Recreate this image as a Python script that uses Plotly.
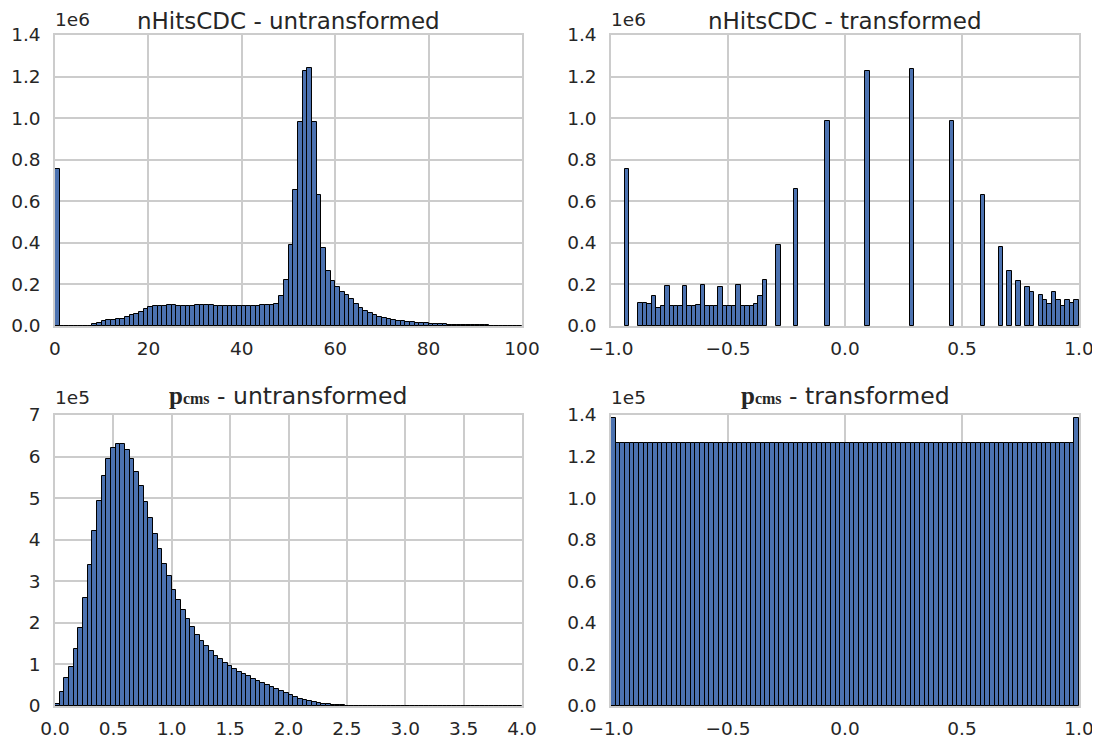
import numpy as np
import plotly.graph_objects as go

# ---------------- data ----------------
# Panel 1: nHitsCDC untransformed, 100 bins over [0, 100], counts in units of 1e6
hits_raw_edges = np.linspace(0, 100, 101)
hits_raw_counts = [
    0.753, 0, 0, 0, 0, 0, 0, 0.002, 0.008, 0.016,
    0.022, 0.028, 0.030, 0.033, 0.035, 0.042, 0.052, 0.060, 0.069, 0.080,
    0.090, 0.094, 0.095, 0.098, 0.099, 0.099, 0.097, 0.095, 0.095, 0.098,
    0.100, 0.101, 0.100, 0.099, 0.098, 0.097, 0.096, 0.095, 0.095, 0.094,
    0.094, 0.095, 0.097, 0.098, 0.099, 0.099, 0.100, 0.108, 0.143, 0.222,
    0.388, 0.656, 0.983, 1.229, 1.239, 0.983, 0.631, 0.377, 0.264, 0.215,
    0.186, 0.166, 0.147, 0.128, 0.107, 0.089, 0.073, 0.061, 0.052, 0.044,
    0.039, 0.034, 0.030, 0.026, 0.023, 0.020, 0.018, 0.016, 0.015, 0.013,
    0.011, 0.0098, 0.0085, 0.0075, 0.0066, 0.0058, 0.005, 0.0045, 0.004, 0.0035,
    0.003, 0.0028, 0.0025, 0.0022, 0.002, 0.0018, 0.0016, 0.0015, 0.0013, 0.0012,
]

# Panel 2: nHitsCDC transformed, 102 bins over [-0.94, 0.998]; only non-empty bins listed
hits_t_edges = np.linspace(-0.94, 0.998, 103)
hits_t_bins = [0, 3, 4, 5, 6, 7, 8, 9, 10, 11, 12, 13, 14, 15, 16, 17, 18, 19, 20,
               21, 22, 23, 24, 25, 26, 27, 28, 29, 30, 31, 34, 38, 45, 54, 64, 73, 80,
               84, 86, 88, 90, 91, 93, 94, 95, 96, 97, 98, 99, 100, 101]
hits_t_counts = [0.756, 0.111, 0.111, 0.106, 0.145, 0.089, 0.094, 0.194, 0.098, 0.098,
                 0.094, 0.192, 0.097, 0.098, 0.100, 0.198, 0.098, 0.095, 0.095, 0.190,
                 0.094, 0.094, 0.097, 0.198, 0.098, 0.097, 0.098, 0.108, 0.142, 0.223,
                 0.389, 0.660, 0.984, 1.229, 1.238, 0.984, 0.632,
                 0.379, 0.265, 0.215, 0.187, 0.166, 0.147, 0.127, 0.108, 0.166, 0.123,
                 0.094, 0.127, 0.111, 0.127]

# Panel 3: p_cms untransformed, 100 bins over [0, 4], counts in units of 1e5
p_raw_edges = np.linspace(0, 4, 101)
p_raw_counts = [
    0.056, 0.34, 0.67, 0.95, 1.37, 1.88, 2.59, 3.38, 4.20, 4.93,
    5.53, 5.95, 6.20, 6.31, 6.30, 6.15, 5.94, 5.64, 5.29, 4.90,
    4.53, 4.14, 3.77, 3.42, 3.12, 2.80, 2.55, 2.30, 2.09, 1.90,
    1.72, 1.57, 1.45, 1.33, 1.21, 1.12, 1.04, 0.97, 0.90, 0.83,
    0.77, 0.71, 0.66, 0.60, 0.56, 0.51, 0.46, 0.40, 0.35, 0.31,
    0.26, 0.21, 0.18, 0.145, 0.12, 0.097, 0.073, 0.056, 0.040, 0.032,
    0.024, 0.016, 0.010, 0.006, 0.003, 0.002, 0.001, 0, 0, 0,
] + [0] * 30

# Panel 4: p_cms transformed, 100 bins over [-1, 1], counts in units of 1e5
p_t_edges = np.linspace(-1, 1, 101)
p_t_counts = [1.385] + [1.265] * 98 + [1.385]

# ---------------- figure ----------------
BAR_COLOR = "#4C72B0"
GRID = "#cccccc"
TXT = "#262626"
FONT = "DejaVu Sans"
TICK = 18.5

# the page body adds an 8px margin, so the figure is drawn 8px in from the corner
OFF = 8
W, H = 1100 - OFF, 744 - OFF
ML, MT = 55 - OFF, 35 - OFF
MR = W - (1079 - OFF)
MB = H - (706 - OFF)
PW, PH = W - ML - MR, H - MT - MB


def px_x(px):  # reference screen pixel -> paper fraction
    return (px - OFF - ML) / PW


def px_y(py):
    return (H - MB - (py - OFF)) / PH


def bars(edges, counts, ax, bins=None):
    edges = np.asarray(edges)
    if bins is None:
        bins = list(range(len(counts)))
    left = edges[bins]
    right = edges[np.asarray(bins) + 1]
    return go.Bar(
        x=(left + right) / 2, y=counts, width=(right - left),
        marker=dict(color=BAR_COLOR, line=dict(color="black", width=1)),
        xaxis="x" + ax, yaxis="y" + ax, showlegend=False, hoverinfo="x+y",
    )


fig = go.Figure()
fig.add_trace(bars(hits_raw_edges, hits_raw_counts, ""))
fig.add_trace(bars(hits_t_edges, hits_t_counts, "2", hits_t_bins))
fig.add_trace(bars(p_raw_edges, p_raw_counts, "3"))
fig.add_trace(bars(p_t_edges, p_t_counts, "4"))

xd_left = [px_x(55), px_x(522)]
xd_right = [px_x(611), px_x(1079)]
yd_top = [px_y(326), px_y(35)]
yd_bot = [px_y(706), px_y(415)]


def axis(domain, rng, vals, text, anchor, tl):
    return dict(domain=domain, range=rng, tickvals=vals, ticktext=text, anchor=anchor,
                showgrid=True, gridcolor=GRID, gridwidth=1.5, zeroline=False,
                showline=True, linecolor=GRID, linewidth=1.5, mirror=True,
                ticks="outside", ticklen=tl, tickcolor="rgba(0,0,0,0)", automargin=False,
                tickfont=dict(family=FONT, size=TICK, color=TXT))


y14 = [0, 0.2, 0.4, 0.6, 0.8, 1.0, 1.2, 1.4]
y14t = ["0.0", "0.2", "0.4", "0.6", "0.8", "1.0", "1.2", "1.4"]
xm1 = [-1, -0.5, 0, 0.5, 1]
xm1t = ["\u22121.0", "\u22120.5", "0.0", "0.5", "1.0"]

fig.update_layout(
    width=W, height=H, margin=dict(l=ML, r=MR, t=MT, b=MB),
    paper_bgcolor="white", plot_bgcolor="white", bargap=0,
    xaxis=axis(xd_left, [0, 100], [0, 20, 40, 60, 80, 100], ["0", "20", "40", "60", "80", "100"], "y", 5),
    yaxis=axis(yd_top, [0, 1.4], y14, y14t, "x", 9),
    xaxis2=axis(xd_right, [-1, 1], xm1, xm1t, "y2", 5),
    yaxis2=axis(yd_top, [0, 1.4], y14, y14t, "x2", 9),
    xaxis3=axis(xd_left, [0, 4], [0, 0.5, 1, 1.5, 2, 2.5, 3, 3.5, 4],
                ["0.0", "0.5", "1.0", "1.5", "2.0", "2.5", "3.0", "3.5", "4.0"], "y3", 5),
    yaxis3=axis(yd_bot, [0, 7], [0, 1, 2, 3, 4, 5, 6, 7], ["0", "1", "2", "3", "4", "5", "6", "7"], "x3", 9),
    xaxis4=axis(xd_right, [-1, 1], xm1, xm1t, "y4", 5),
    yaxis4=axis(yd_bot, [0, 1.4], y14, y14t, "x4", 9),
)

ann = []


def title(text, xc, yc, size=23):
    ann.append(dict(text=text, x=px_x(xc), y=px_y(yc), xref="paper", yref="paper",
                    showarrow=False, xanchor="center", yanchor="middle",
                    font=dict(family=FONT, size=size, color=TXT)))


def offset(text, xl, yc):
    ann.append(dict(text=text, x=px_x(xl), y=px_y(yc), xref="paper", yref="paper",
                    showarrow=False, xanchor="left", yanchor="middle",
                    font=dict(family=FONT, size=TICK, color=TXT)))


pcms = ("<span style='font-family:Liberation Serif;font-weight:bold;font-size:25px'>p</span>"
        "<span style='font-family:Liberation Serif;font-weight:bold;font-size:16px'>cms</span>")

title("nHitsCDC - untransformed", 288, 21)
title("nHitsCDC - transformed", 845, 21)
title(pcms + " - untransformed", 288, 396, 23.5)
title(pcms + " - transformed", 845, 396, 23.5)
offset("1e6", 53, 19)
offset("1e6", 609, 19)
offset("1e5", 53, 397)
offset("1e5", 609, 397)
fig.update_layout(annotations=ann)

fig.write_html("out.html")
